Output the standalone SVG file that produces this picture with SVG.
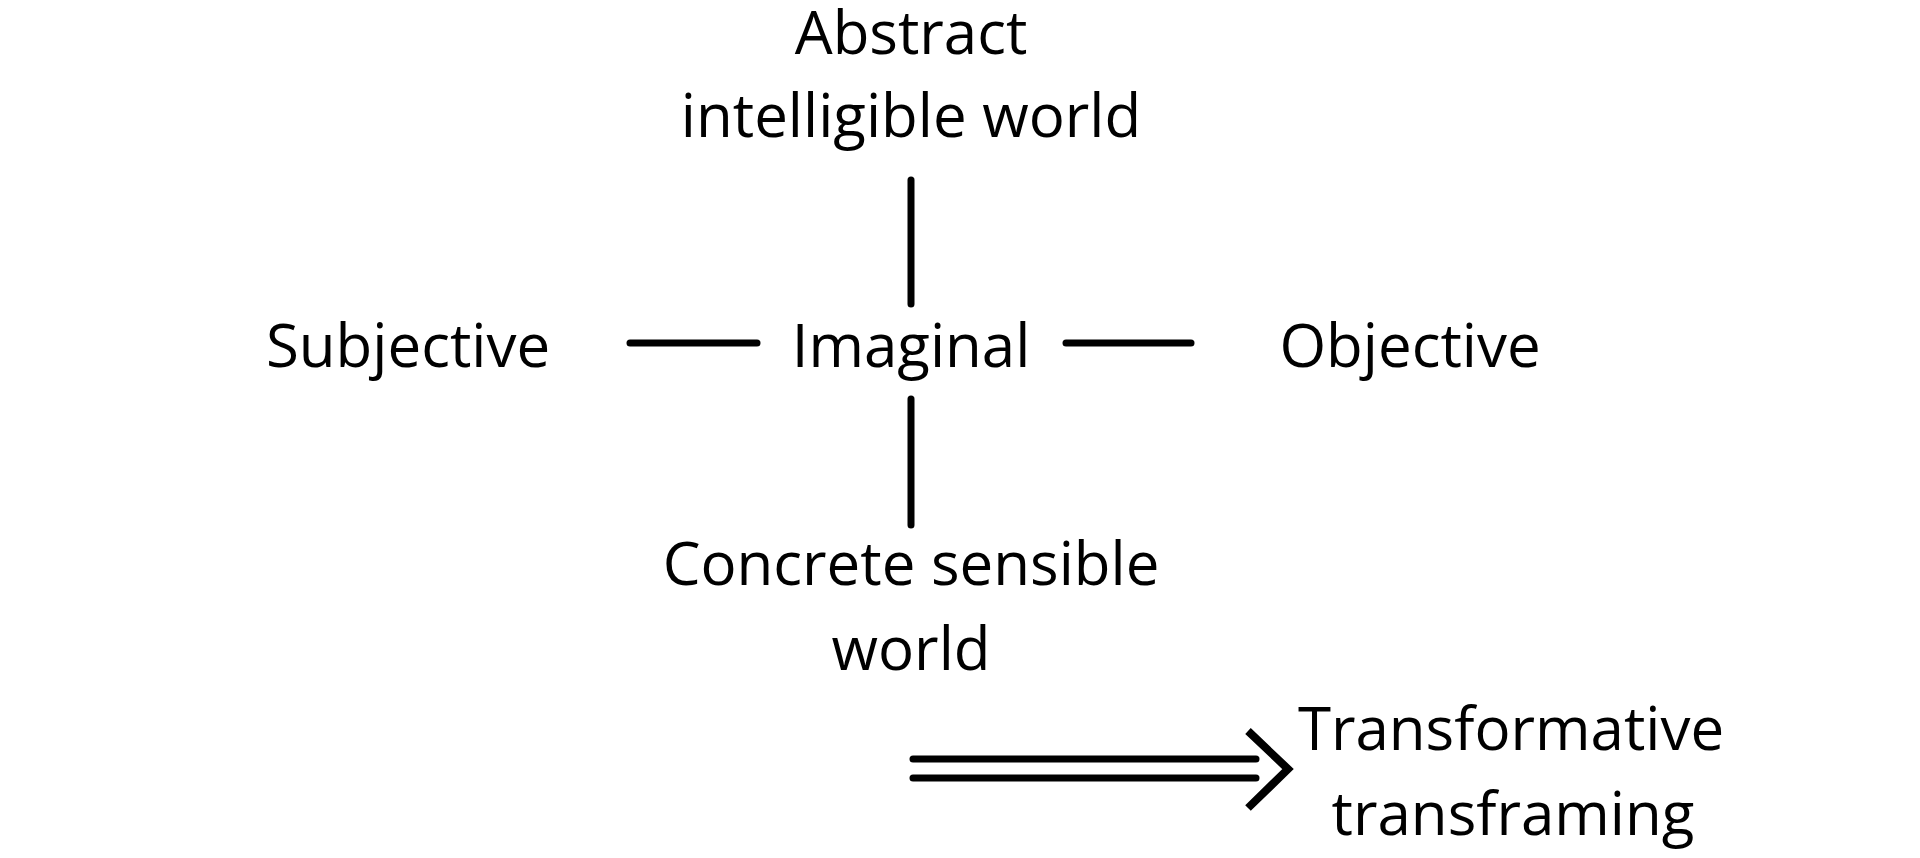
<svg xmlns="http://www.w3.org/2000/svg" width="1920" height="858" viewBox="0 0 1920 858">
<style>
text{font-family:"Open Sans","Noto Sans","Liberation Sans",sans-serif;font-size:60px;fill:#000;text-anchor:middle}
.c{stroke:#000;stroke-width:7;stroke-linecap:round;fill:none}
.h{stroke:#000;stroke-width:8;stroke-linecap:butt;fill:none}
</style>
<rect width="1920" height="858" fill="#fff"/>
<g id="abstract"><text x="911" y="54">Abstract</text><text x="911" y="137">intelligible world</text></g>
<g id="subjective"><text x="408" y="367">Subjective</text></g>
<g id="imaginal"><text x="911" y="367">Imaginal</text></g>
<g id="objective"><text x="1410" y="367">Objective</text></g>
<g id="concrete"><text x="911" y="585">Concrete sensible</text><text x="911" y="670">world</text></g>
<g id="transformative"><text x="1511" y="750">Transformative</text><text x="1513" y="835">transframing</text></g>
<g id="connectors">
<line class="c" x1="913" y1="759" x2="1256" y2="759"/>
<line class="c" x1="913" y1="778" x2="1256" y2="778"/>
<line class="c" x1="911" y1="180" x2="911" y2="304"/>
<line class="c" x1="911" y1="399" x2="911" y2="525"/>
<line class="c" x1="630" y1="343" x2="757" y2="343"/>
<line class="c" x1="1066" y1="343" x2="1191" y2="343"/>
<polyline class="h" points="1248,731 1288,769 1248,808"/>
</g>
</svg>
